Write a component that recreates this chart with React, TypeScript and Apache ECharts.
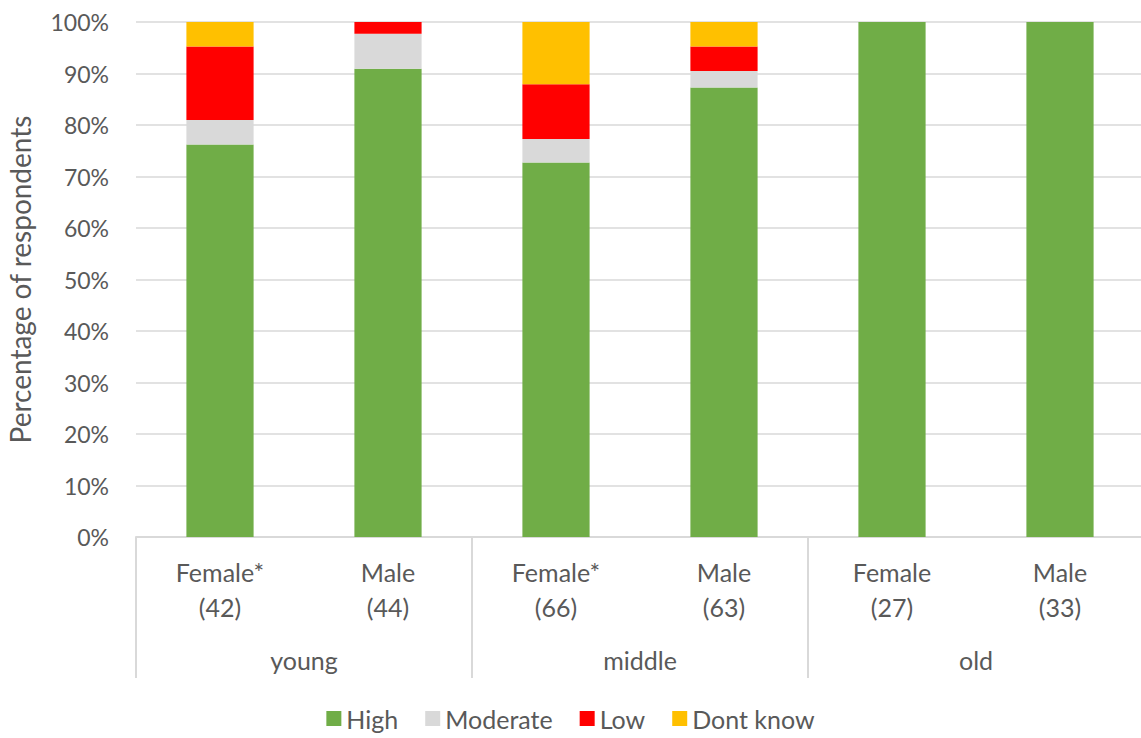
import React, { useEffect, useRef } from "react";
import * as echarts from "echarts";

// Respondent groups along the x axis
const categories = ["Female*\n(42)", "Male\n(44)", "Female*\n(66)", "Male\n(63)", "Female\n(27)", "Male\n(33)"];
const ageGroups = ["young", "middle", "old"];

// Share of respondents per rating (%)
const high = [76.19, 90.91, 72.73, 87.3, 100, 100];
const moderate = [4.76, 6.82, 4.55, 3.17, 0, 0];
const low = [14.29, 2.27, 10.61, 4.76, 0, 0];
const dontKnow = [4.76, 0, 12.12, 4.76, 0, 0];

const yTicks = { min: 0, max: 100, interval: 10 };

const FONT = "Lato, 'Noto Sans', sans-serif";
const TEXT = "#595959";
const LINE = "#d9d9d9";

export default function App() {
  const ref = useRef<HTMLDivElement>(null);

  useEffect(() => {
    document.body.style.margin = "0";
    if (!ref.current) return;
    const chart = echarts.init(ref.current, null, { renderer: "svg" });

    const mk = (name: string, data: number[], color: string) => ({
      name,
      type: "bar",
      stack: "total",
      barWidth: "40%",
      data,
      itemStyle: { color },
      xAxisIndex: 0,
    });

    chart.setOption({
      animation: false,
      textStyle: { fontFamily: FONT },
      grid: {
        left: 136,
        top: 22,
        bottom: 201,
        width: 1008,
        containLabel: false,
        outerBoundsMode: "none",
      },
      legend: {
        bottom: 2,
        left: "center",
        icon: "rect",
        itemWidth: 15,
        itemHeight: 15,
        itemGap: 27,
        textStyle: { color: TEXT, fontSize: 25, fontFamily: FONT },
        data: ["High", "Moderate", "Low", "Dont know"],
      },
      xAxis: [
        {
          type: "category",
          data: categories,
          position: "bottom",
          axisLine: { show: true, lineStyle: { color: LINE, width: 2 } },
          axisTick: { show: false },
          axisLabel: {
            color: TEXT,
            fontSize: 25,
            lineHeight: 35,
            margin: 17,
            interval: 0,
            fontFamily: FONT,
          },
        },
        {
          type: "category",
          data: ageGroups,
          position: "bottom",
          axisLine: { show: false },
          axisTick: { show: true, length: 141, lineStyle: { color: LINE, width: 2 } },
          axisLabel: {
            color: TEXT,
            fontSize: 25,
            lineHeight: 26,
            margin: 110,
            interval: 0,
            fontFamily: FONT,
          },
        },
      ],
      yAxis: {
        type: "value",
        ...yTicks,
        name: "Percentage of respondents",
        nameLocation: "middle",
        nameGap: 102,
        nameTextStyle: { color: TEXT, fontSize: 28, fontFamily: FONT },
        axisLine: { show: false },
        axisTick: { show: false },
        axisLabel: { color: TEXT, fontSize: 23, margin: 27, formatter: "{value}%", fontFamily: FONT },
        splitLine: { lineStyle: { color: LINE, width: 1.5 } },
      },
      series: [
        mk("High", high, "#70ad47"),
        mk("Moderate", moderate, "#d9d9d9"),
        mk("Low", low, "#ff0000"),
        mk("Dont know", dontKnow, "#ffc000"),
      ],
    });

    return () => chart.dispose();
  }, []);

  return <div ref={ref} style={{ width: 1141, height: 738 }} />;
}
